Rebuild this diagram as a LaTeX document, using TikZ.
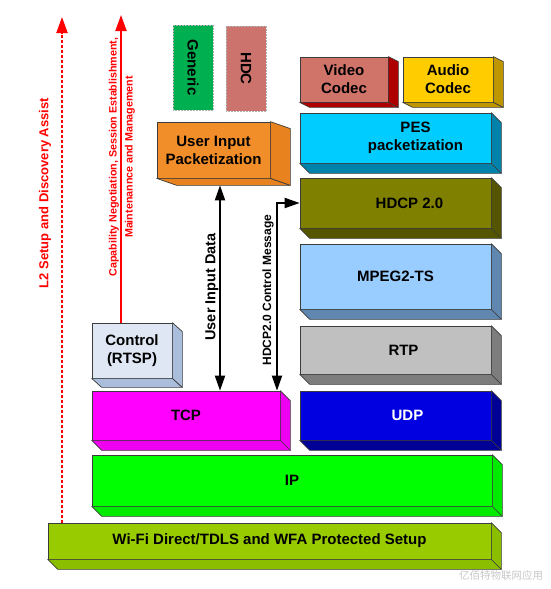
\documentclass[tikz,border=0pt]{standalone}
\usepackage{fontspec}
\setmainfont{Liberation Sans}
\newfontfamily\cjkfont{Noto Sans CJK SC}
\usetikzlibrary{arrows.meta}
\definecolor{edgec}{RGB}{60,60,60}
\definecolor{wifif}{RGB}{153,204,0}
\definecolor{wifis}{RGB}{140,190,0}
\definecolor{ipf}{RGB}{0,255,0}
\definecolor{ips}{RGB}{0,235,0}
\definecolor{tcpf}{RGB}{255,0,255}
\definecolor{tcps}{RGB}{240,0,240}
\definecolor{udpf}{RGB}{0,0,225}
\definecolor{udps}{RGB}{0,0,150}
\definecolor{rtpf}{RGB}{192,192,192}
\definecolor{rtps}{RGB}{125,125,125}
\definecolor{mpegf}{RGB}{153,204,255}
\definecolor{mpegs}{RGB}{95,135,175}
\definecolor{hdcpf}{RGB}{128,128,0}
\definecolor{hdcps}{RGB}{85,85,0}
\definecolor{pesf}{RGB}{0,204,255}
\definecolor{pess}{RGB}{0,130,170}
\definecolor{videof}{RGB}{208,115,105}
\definecolor{videos}{RGB}{175,0,0}
\definecolor{audiof}{RGB}{255,204,0}
\definecolor{audios}{RGB}{190,150,0}
\definecolor{ctrlf}{RGB}{222,231,243}
\definecolor{ctrls}{RGB}{170,190,220}
\definecolor{uipf}{RGB}{242,142,42}
\definecolor{uips}{RGB}{232,130,30}
\definecolor{genf}{RGB}{0,176,80}
\definecolor{hdcf}{RGB}{205,115,110}
\tikzset{
  layer/.style={draw=edgec, line width=0.7pt, inner sep=0pt, align=center,
    font=\fontsize{15}{18}\selectfont\bfseries},
  tag/.style={draw=gray!60, densely dotted, line width=0.5pt, inner sep=0pt,
    font=\fontsize{15}{17}\selectfont\bfseries},
  redtip/.style={-{Triangle[width=11pt,length=16pt]}, red, line width=2pt},
  blktip/.style={{Triangle[width=10pt,length=15pt]}-{Triangle[width=10pt,length=15pt]}, line width=2pt},
}
\newcommand{\slab}[4]{%
  \filldraw[fill=#4, draw=edgec, line width=0.7pt, line join=round]
    (#1.south west) -- (#1.south east) -- ([shift={(#2,#3)}]#1.south east)
    -- ([shift={(#2,#3)}]#1.south west) -- cycle;
  \filldraw[fill=#4, draw=edgec, line width=0.7pt, line join=round]
    (#1.north east) -- ([shift={(#2,#3)}]#1.north east)
    -- ([shift={(#2,#3)}]#1.south east) -- (#1.south east) -- cycle;
}
\begin{document}
\begin{tikzpicture}[x=1pt, y=-1pt]
  \useasboundingbox (0,0) rectangle (550,589);
  \node[layer, fill=wifif, minimum width=443pt, minimum height=36pt] (wifi) at (269.5,541) {Wi-Fi Direct/TDLS and WFA Protected Setup};
  \node[layer, fill=ipf, minimum width=400pt, minimum height=51pt] (ip) at (292,480.5) {IP};
  \node[layer, fill=tcpf, minimum width=188pt, minimum height=49pt] (tcp) at (186,415.5) {TCP};
  \node[layer, fill=udpf, text=white, minimum width=191pt, minimum height=49pt] (udp) at (395.5,415.5) {\hspace*{24pt}UDP};
  \node[layer, fill=rtpf, minimum width=191pt, minimum height=48pt] (rtp) at (395.5,350) {\hspace*{16pt}RTP};
  \node[layer, fill=mpegf, minimum width=191pt, minimum height=65pt] (mpeg) at (395.5,276.5) {MPEG2-TS};
  \node[layer, fill=hdcpf, minimum width=191pt, minimum height=50pt] (hdcp) at (395.5,203) {\hspace*{28pt}HDCP 2.0};
  \node[layer, fill=pesf, minimum width=191pt, minimum height=50pt] (pes) at (395.5,138) {\hspace*{40pt}PES\\\hspace*{40pt}packetization};
  \node[layer, fill=videof, minimum width=88pt, minimum height=45pt] (video) at (344,79.5) {Video\\Codec};
  \node[layer, fill=audiof, minimum width=90pt, minimum height=45pt] (audio) at (448,79.5) {Audio\\Codec};
  \node[layer, fill=ctrlf, minimum width=80pt, minimum height=55pt] (ctrl) at (132,350.5) {Control\\(RTSP)};
  \node[layer, fill=uipf, minimum width=113pt, minimum height=56pt] (uip) at (213.5,150) {User Input\\Packetization};
  \node[tag, fill=genf, minimum width=40pt, minimum height=85pt] (gen) at (193,67.5) {\rotatebox{-90}{Generic}};
  \node[tag, fill=hdcf, minimum width=40pt, minimum height=85pt] (hdc) at (246,68.5) {\rotatebox{-90}{HDC}};
  \slab{wifi}{10}{10}{wifis}
  \slab{ip}{10}{10}{ips}
  \slab{tcp}{10}{10}{tcps}
  \slab{udp}{10}{10}{udps}
  \slab{rtp}{10}{10}{rtps}
  \slab{mpeg}{10}{10}{mpegs}
  \slab{hdcp}{10}{10}{hdcps}
  \slab{pes}{10}{10}{pess}
  \slab{video}{10}{5}{videos}
  \slab{audio}{10}{5}{audios}
  \slab{ctrl}{10}{9}{ctrls}
  \slab{uip}{20}{7}{uips}
  \coordinate (l2top) at (62,17);
  \coordinate (captop) at (121,15);
  \coordinate (uidx) at (220,0);
  \coordinate (msgx) at (277,0);
  \begin{scope}
    \draw[redtip, dash pattern=on 3pt off 2pt] (l2top |- wifi.north) -- (l2top);
    \draw[redtip] (captop |- ctrl.north) -- (captop);
    \draw[blktip] ([yshift=-7pt]uip.south -| uidx) -- (uidx |- tcp.north);
    \draw[blktip] (hdcp.west) -| (msgx |- tcp.north);
  \end{scope}
  \node[rotate=90, text=red, font=\fontsize{13}{15}\selectfont\bfseries] (l2) at (45,193) {L2 Setup and Discovery Assist};
  \node[rotate=90, text=red, align=center, font=\fontsize{10.7}{16}\selectfont\bfseries] (cap) at (122,157) {Capability Negotiation, Session Establishment,\\Maintenannce and Management};
  \node[rotate=90, font=\fontsize{14.5}{16}\selectfont\bfseries] (uid) at (212,287) {User Input Data};
  \node[rotate=90, font=\fontsize{12}{13}\selectfont\bfseries] (msg) at (268,290) {HDCP2.0 Control Message};
  \node[text=black!22, font=\cjkfont\fontsize{10.5}{12}\selectfont] (mark) at (501,576) {亿佰特物联网应用};
\end{tikzpicture}
\end{document}
